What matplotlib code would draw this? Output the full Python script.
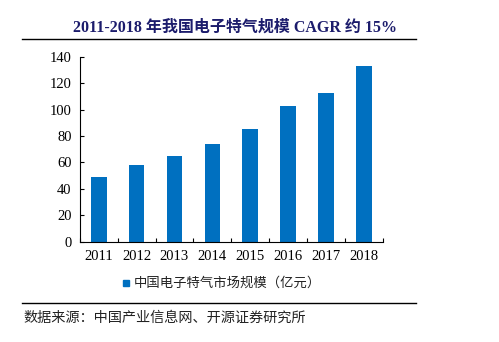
import matplotlib.pyplot as plt
from matplotlib.lines import Line2D
import numpy as np

years = ['2011', '2012', '2013', '2014', '2015', '2016', '2017', '2018']
market_size = [49.2, 58.0, 64.9, 74.2, 85.1, 102.7, 112.3, 132.8]
yticks = [0, 20, 40, 60, 80, 100, 120, 140]

title = '2011-2018 年我国电子特气规模 CAGR 约 15%'
legend_label = '中国电子特气市场规模（亿元）'
source = '数据来源：中国产业信息网、开源证券研究所'

serif = ['Liberation Serif', 'Noto Sans CJK SC']
cjk = ['Noto Sans CJK SC', 'DejaVu Sans']
bar_color = '#0070C0'

fig = plt.figure(figsize=(4.99, 3.42), dpi=100)
ax = fig.add_axes([0.160, 0.2933, 0.607, 0.5408])

x = np.arange(len(years))
ax.bar(x, market_size, width=0.41, color=bar_color, zorder=2)

ax.set_xlim(-0.5, len(years) - 0.5)
ax.set_ylim(0, 140)
ax.set_yticks(yticks)
ax.set_yticklabels([str(v) for v in yticks], family='Liberation Serif', fontsize=10.5)
ax.set_xticks(x)
ax.set_xticklabels(years, family='Liberation Serif', fontsize=10.5)
ax.tick_params(axis='x', length=0, pad=6)
ax.set_xticks(np.arange(-0.5, len(years) + 0.5, 1), minor=True)
ax.tick_params(axis='x', which='minor', direction='in', length=3, width=0.8)
ax.tick_params(axis='y', direction='in', length=3, width=0.8, pad=6)

for s in ['top', 'right']:
    ax.spines[s].set_visible(False)
for s in ['left', 'bottom']:
    ax.spines[s].set_linewidth(0.8)

# title and rules
fig.text(0.471, 0.918, title, ha='center', va='center', fontsize=11.5,
         fontweight='bold', color='#1C1C6C', family=serif)
fig.add_artist(Line2D([0.044, 0.834], [0.886, 0.886], color='black', lw=1.0))
fig.add_artist(Line2D([0.044, 0.834], [0.113, 0.113], color='black', lw=1.0))

# legend
fig.patches.append(plt.Rectangle((0.247, 0.164), 0.012, 0.018, color=bar_color,
                                 transform=fig.transFigure, figure=fig))
fig.text(0.268, 0.173, legend_label, ha='left', va='center', fontsize=9.6,
         color='#222222', family=cjk)

fig.text(0.046, 0.070, source, ha='left', va='center', fontsize=10.2,
         color='#222222', family=cjk)

fig.savefig('out.png', dpi=100)
